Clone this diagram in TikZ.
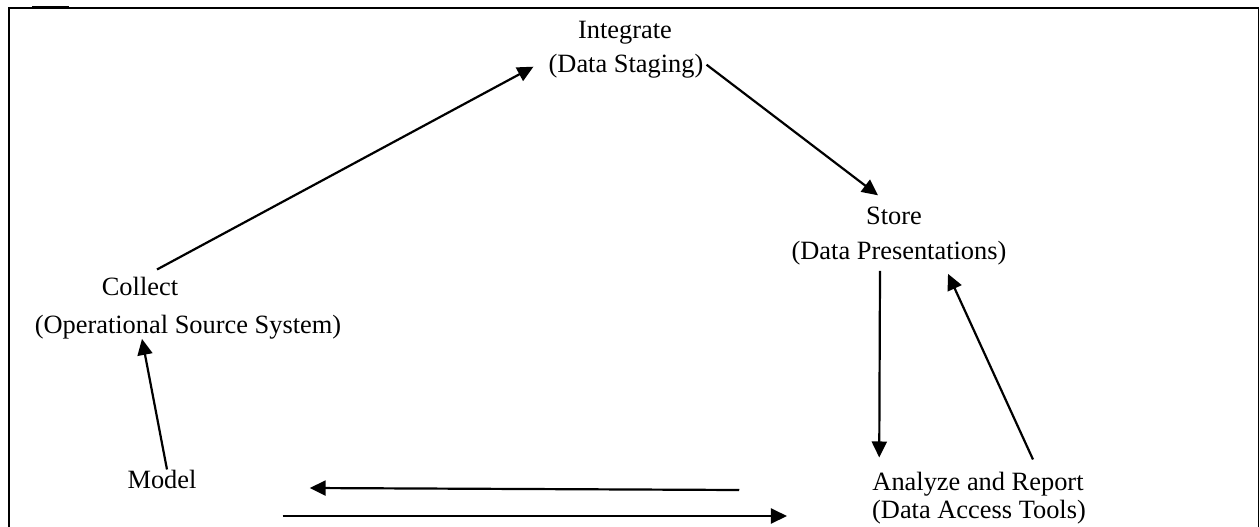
\documentclass[tikz,border=0pt]{standalone}
\usepackage{fontspec}
\setmainfont{Liberation Serif}
\usepackage{tikz}
\usetikzlibrary{arrows.meta}

\begin{document}
\begin{tikzpicture}[
  x=1pt, y=-1pt,
  every node/.style={font=\fontsize{26.4}{32}\selectfont, inner sep=0pt, anchor=base},
  arrow/.style={-{Triangle[length=16pt,width=15pt]}, line width=2.2pt},
  frame/.style={line width=1.5pt}
]
\useasboundingbox (0,0) rectangle (1260,527);
\draw[frame] (9,527) -- (9,8) -- (1258.5,8) -- (1258.5,527);
\draw[line width=3pt] (32,8) -- (69,8);

\node (integrate) at (625,39) {Integrate};
\node (integratesub) at (626,73) {(Data Staging)};
\node (store) at (894,224) {Store};
\node (storesub) at (899,259) {(Data Presentations)};
\node (collect) at (140,295) {Collect};
\node (collectsub) at (188,333) {(Operational Source System)};
\node (model) at (162,488) {Model};
\node (analyze) at (978,490) {Analyze and Report};
\node (analyzesub) at (979,518) {(Data Access Tools)};

\draw[arrow] ([xshift=17pt,yshift=7pt]collect.north) -- ([xshift=-15pt]integratesub.west);
\draw[arrow] ([xshift=3pt,yshift=2pt]integratesub.east) -- ([xshift=-16pt,yshift=11pt]store.north);
\draw[arrow] ([xshift=-19pt,yshift=-6pt]storesub.south) -- ([xshift=7pt,yshift=14pt]analyze.north west);
\draw[arrow] ([xshift=55pt,yshift=12pt]analyze.north) -- ([xshift=49pt,yshift=-9pt]storesub.south);
\draw[arrow] ([xshift=5pt]model.north) -- ([xshift=-46pt]collectsub.south);
\draw[arrow] ([xshift=-133pt]analyze.base west) -- ([xshift=113pt]model.base east);
\draw[arrow] ([xshift=86pt,yshift=-28pt]model.base east) -- ([xshift=-85pt,yshift=2pt]analyzesub.base west);
\end{tikzpicture}
\end{document}
